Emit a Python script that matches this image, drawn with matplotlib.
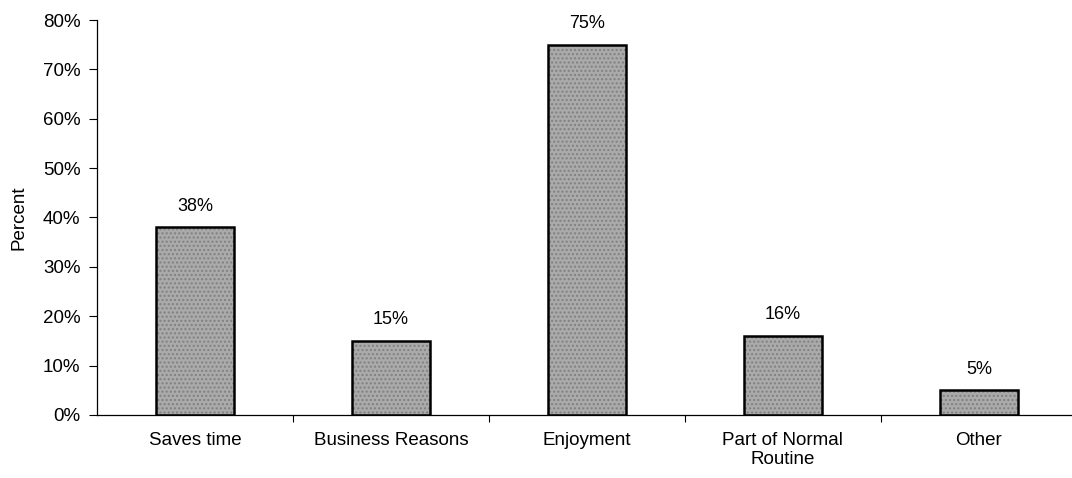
import numpy as np
import matplotlib.pyplot as plt
from matplotlib.ticker import FuncFormatter, FixedLocator

plt.rcParams['font.family'] = ['Liberation Sans', 'DejaVu Sans']

categories = ['Saves time', 'Business Reasons', 'Enjoyment',
              'Part of Normal\nRoutine', 'Other']
percents = [38, 15, 75, 16, 5]
labels = ['38%', '15%', '75%', '16%', '5%']

fig = plt.figure(figsize=(10.72, 4.78), dpi=100)
ax = fig.add_axes([0.0905, 0.132, 0.914, 0.826])

x = np.arange(len(categories))
bars = ax.bar(x, percents, width=0.4, color='#aaaaaa', edgecolor='black',
              linewidth=1.8, hatch='....')
for b in bars:
    b._hatch_color = (0.5, 0.5, 0.5, 1.0)

for xi, v, t in zip(x, percents, labels):
    ax.annotate(t, (xi, v), xytext=(0, 9), textcoords='offset points',
                ha='center', va='bottom', fontsize=13)

ax.set_xlim(-0.5, len(categories) - 0.5)
ax.set_ylim(0, 80)
ax.set_yticks(range(0, 81, 10))
ax.yaxis.set_major_formatter(FuncFormatter(lambda v, p: f'{int(v)}%'))
ax.set_ylabel('Percent', fontsize=13.5, labelpad=11)

# category names centred, tick marks at boundaries
ax.set_xticks(x)
ax.set_xticklabels(categories, fontsize=13.5, linespacing=1.15)
ax.tick_params(axis='x', which='major', length=0, pad=12)
ax.xaxis.set_minor_locator(FixedLocator(np.arange(0.5, len(categories), 1)))
ax.tick_params(axis='x', which='minor', length=5, direction='out', width=0.8)
ax.tick_params(axis='y', length=6, width=0.8, pad=6, labelsize=13.5)

for s in ['top', 'right']:
    ax.spines[s].set_visible(False)
for s in ['left', 'bottom']:
    ax.spines[s].set_linewidth(0.9)

fig.savefig('out.png', dpi=100)
